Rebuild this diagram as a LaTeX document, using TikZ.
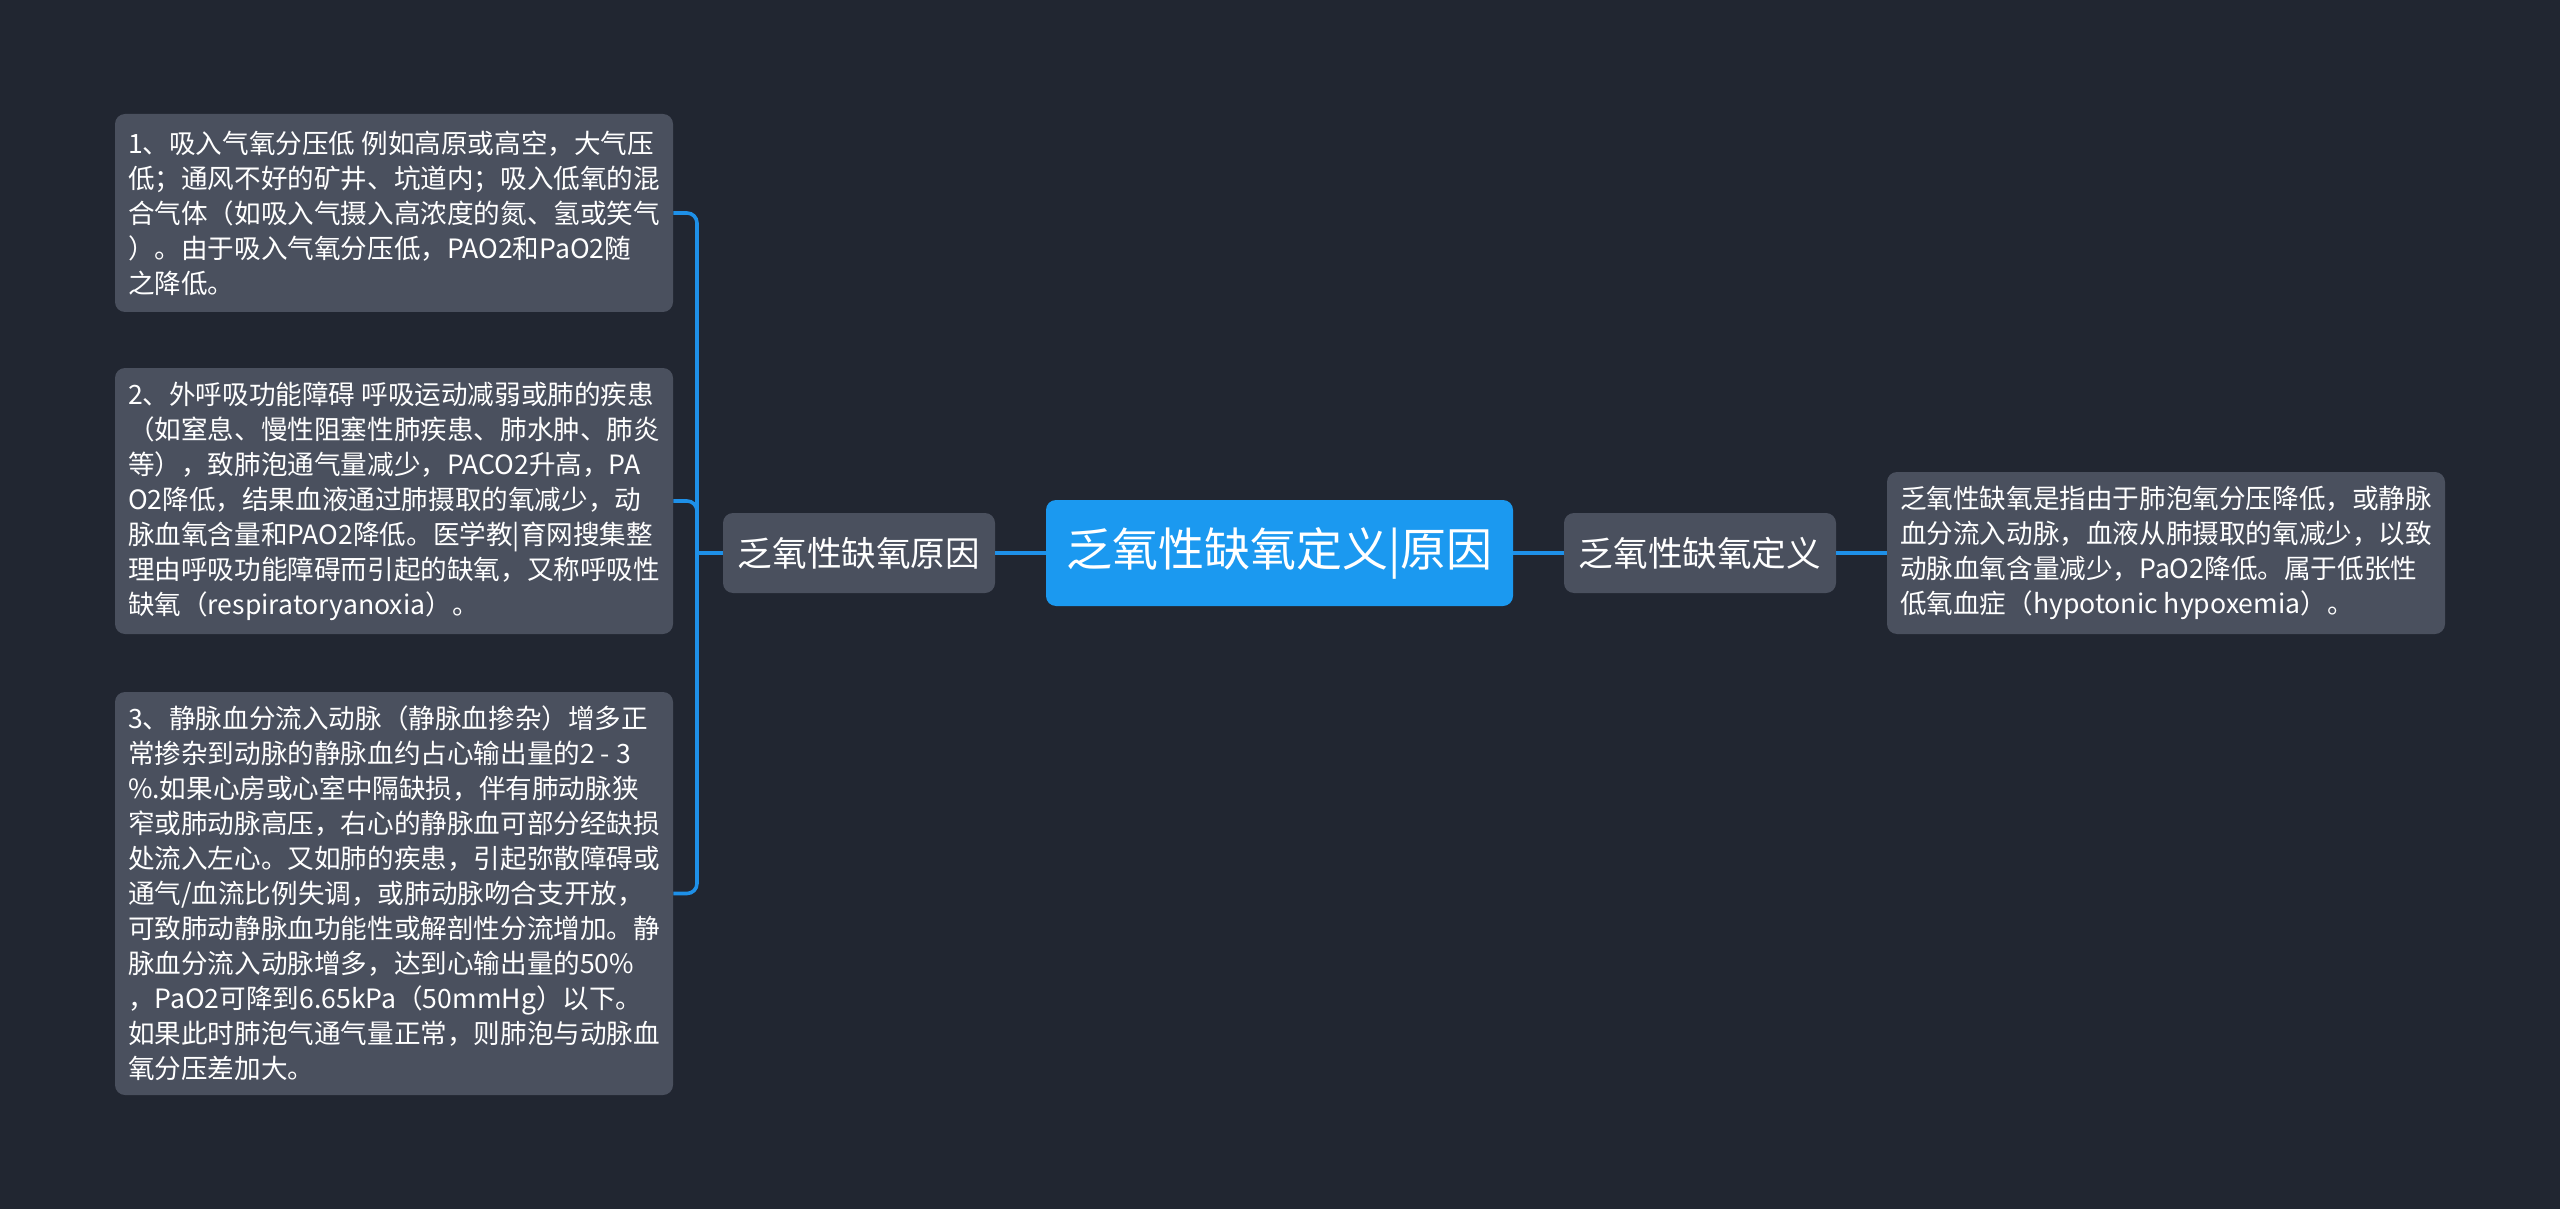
\documentclass[tikz,border=0pt]{standalone}
\usepackage{fontspec}
\setmainfont{Noto Sans CJK SC}
\usepackage{tikz}
\definecolor{fondo}{RGB}{33,38,49}
\definecolor{gris}{RGB}{74,80,94}
\definecolor{azul}{RGB}{27,153,240}
\definecolor{trazo}{RGB}{30,144,232}
\tikzstyle{tema}=[fill=azul,text=white,rounded corners=5pt,inner sep=0pt,minimum width=233.5pt,minimum height=53pt,font=\fontsize{23}{27}\selectfont]
\tikzstyle{rama}=[fill=gris,text=white,rounded corners=5pt,inner sep=0pt,minimum width=136pt,minimum height=40pt,font=\fontsize{17.3}{20}\selectfont]
\tikzstyle{hoja}=[fill=gris,text=white,rounded corners=5pt,inner sep=0pt,minimum width=279pt,align=left,font=\fontsize{13.3}{17.5}\selectfont]
\tikzstyle{linea}=[draw=trazo,line width=1.8pt,rounded corners=5pt]

\begin{document}
\begin{tikzpicture}[x=0.5pt,y=-0.5pt]
    \fill [fondo] (0,0) rectangle (2560,1209);
    % centro y ramas
    \node [tema] (centro) at (1279.5,553) {乏氧性缺氧定义|原因};
    \node [rama] (causa) at (859,553) {乏氧性缺氧原因};
    \node [rama] (defin) at (1700,553) {乏氧性缺氧定义};
    \coordinate (tronco) at (697,553);
    % hojas de la izquierda
    \node [hoja,minimum height=99pt] (h1) at (394,213) {1、吸入气氧分压低 例如高原或高空，大气压\\低；通风不好的矿井、坑道内；吸入低氧的混\\合气体（如吸入气摄入高浓度的氮、氢或笑气\\）。由于吸入气氧分压低，PAO2和PaO2随\\之降低。};
    \node [hoja,minimum height=133pt] (h2) at (394,501) {2、外呼吸功能障碍 呼吸运动减弱或肺的疾患\\（如窒息、慢性阻塞性肺疾患、肺水肿、肺炎\\等），致肺泡通气量减少，PACO2升高，PA\\O2降低，结果血液通过肺摄取的氧减少，动\\脉血氧含量和PAO2降低。医学教|育网搜集整\\理由呼吸功能障碍而引起的缺氧，又称呼吸性\\缺氧（respiratoryanoxia）。};
    \node [hoja,minimum height=201.5pt] (h3) at (394,893.5) {3、静脉血分流入动脉（静脉血掺杂）增多正\\常掺杂到动脉的静脉血约占心输出量的2 - 3\\\%.如果心房或心室中隔缺损，伴有肺动脉狭\\窄或肺动脉高压，右心的静脉血可部分经缺损\\处流入左心。又如肺的疾患，引起弥散障碍或\\通气/血流比例失调，或肺动脉吻合支开放，\\可致肺动静脉血功能性或解剖性分流增加。静\\脉血分流入动脉增多，达到心输出量的50\%\\，PaO2可降到6.65kPa（50mmHg）以下。\\如果此时肺泡气通气量正常，则肺泡与动脉血\\氧分压差加大。};
    % hoja de la derecha
    \node [hoja,minimum height=81pt] (h4) at (2166,553) {乏氧性缺氧是指由于肺泡氧分压降低，或静脉\\血分流入动脉，血液从肺摄取的氧减少，以致\\动脉血氧含量减少，PaO2降低。属于低张性\\低氧血症（hypotonic hypoxemia）。};
    % conexiones
    \draw [linea] (centro.west) -- (causa.east);
    \draw [linea] (centro.east) -- (defin.west);
    \draw [linea] (defin.east) -- (h4.west);
    \draw [linea] (causa.west) -- (tronco);
    \draw [linea] (tronco) |- (h1.east);
    \draw [linea] (tronco) |- (h2.east);
    \draw [linea] (tronco) |- (h3.east);
\end{tikzpicture}
\end{document}
